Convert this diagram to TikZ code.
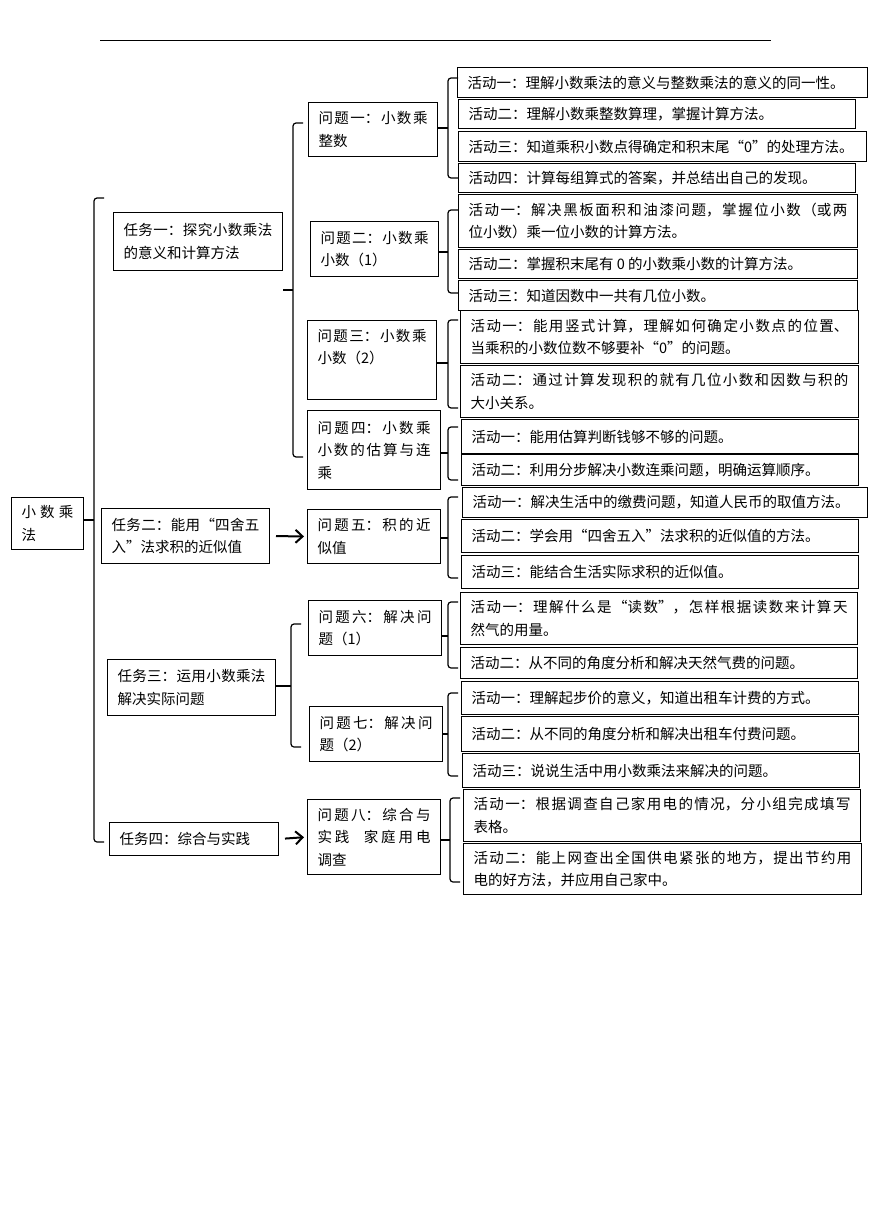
\documentclass[tikz,border=0pt]{standalone}
\usepackage{fontspec}
\usetikzlibrary{calc, arrows.meta}
\newfontfamily\cjk{Noto Sans CJK SC}
\XeTeXlinebreaklocale "zh"
\XeTeXlinebreakskip=0pt plus 3pt
\tikzset{box/.style = {draw, line width=1pt, anchor=north west, inner xsep=10pt,
    inner ysep=3pt, align=justify, font=\cjk\fontsize{14.5pt}{22.5pt}\selectfont}}
\tikzset{brace/.style = {line width=1.2pt, rounded corners=3pt}}
\tikzset{step arrow/.style = {line width=2pt, -{Straight Barb[length=7pt,width=13pt]},
    shorten <=6pt, shorten >=3pt}}

\begin{document}
\begin{tikzpicture}[x=1pt,y=-1pt]
  \useasboundingbox (0,0) rectangle (870,1230);
  \draw[line width=1pt] (100,41) -- (771,41);

  % root and tasks
  \node[box, text width=52pt, minimum height=52pt] (root) at (11,497)
    {小数乘\linebreak 法};
  \node[box, text width=149pt, minimum height=58pt] (task1) at (113,212)
    {任务一：探究小数乘法\linebreak 的意义和计算方法};
  \node[box, text width=148pt, minimum height=55pt] (task2) at (101,508)
    {任务二：能用“四舍五\linebreak 入”法求积的近似值};
  \node[box, text width=148pt, minimum height=56pt] (task3) at (107,659)
    {任务三：运用小数乘法\linebreak 解决实际问题};
  \node[box, text width=149pt, minimum height=33pt] (task4) at (109,822)
    {任务四：综合与实践};

  % problems
  \node[box, text width=109pt, minimum height=54pt] (prob1) at (308,102)
    {问题一：小数乘\linebreak 整数};
  \node[box, text width=108pt, minimum height=55pt] (prob2) at (310,221)
    {问题二：小数乘\linebreak 小数（1）};
  \node[box, text width=109pt, minimum height=79pt, text depth=50pt] (prob3) at (307,320)
    {问题三：小数乘\linebreak 小数（2）};
  \node[box, text width=113pt, minimum height=79pt] (prob4) at (307,410)
    {问题四：小数乘\linebreak 小数的估算与连\linebreak 乘};
  \node[box, text width=113pt, minimum height=54pt] (prob5) at (307,509)
    {问题五：积的近\linebreak 似值};
  \node[box, text width=113pt, minimum height=55pt] (prob6) at (308,600)
    {问题六：解决问\linebreak 题（1）};
  \node[box, text width=113pt, minimum height=55pt] (prob7) at (309,706)
    {问题七：解决问\linebreak 题（2）};
  \node[box, text width=113pt, minimum height=75pt] (prob8) at (307,799)
    {问题八：综合与\linebreak 实践\quad 家庭用电\linebreak 调查};

  % activities
  \node[box, text width=390pt, minimum height=30pt] (act11) at (457,67)
    {活动一：理解小数乘法的意义与整数乘法的意义的同一性。};
  \node[box, text width=377pt, minimum height=29pt] (act12) at (458,99)
    {活动二：理解小数乘整数算理，掌握计算方法。};
  \node[box, text width=388pt, minimum height=30pt] (act13) at (458,131)
    {活动三：知道乘积小数点得确定和积末尾“0”的处理方法。};
  \node[box, text width=377pt, minimum height=29pt] (act14) at (458,163)
    {活动四：计算每组算式的答案，并总结出自己的发现。};
  \node[box, text width=379pt, minimum height=53pt] (act21) at (458,194)
    {活动一：解决黑板面积和油漆问题，掌握位小数（或两\linebreak 位小数）乘一位小数的计算方法。};
  \node[box, text width=379pt, minimum height=29pt] (act22) at (458,249)
    {活动二：掌握积末尾有 0 的小数乘小数的计算方法。};
  \node[box, text width=379pt, minimum height=30pt] (act23) at (458,280)
    {活动三：知道因数中一共有几位小数。};
  \node[box, text width=378pt, minimum height=53pt] (act31) at (460,310)
    {活动一：能用竖式计算，理解如何确定小数点的位置、\linebreak 当乘积的小数位数不够要补“0”的问题。};
  \node[box, text width=378pt, minimum height=52pt] (act32) at (460,365)
    {活动二：通过计算发现积的就有几位小数和因数与积的\linebreak 大小关系。};
  \node[box, text width=377pt, minimum height=34pt] (act41) at (461,419)
    {活动一：能用估算判断钱够不够的问题。};
  \node[box, text width=377pt, minimum height=31pt] (act42) at (461,454)
    {活动二：利用分步解决小数连乘问题，明确运算顺序。};
  \node[box, text width=385pt, minimum height=30pt] (act51) at (462,487)
    {活动一：解决生活中的缴费问题，知道人民币的取值方法。};
  \node[box, text width=377pt, minimum height=33pt] (act52) at (461,519)
    {活动二：学会用“四舍五入”法求积的近似值的方法。};
  \node[box, text width=377pt, minimum height=33pt] (act53) at (461,555)
    {活动三：能结合生活实际求积的近似值。};
  \node[box, text width=377pt, minimum height=52pt] (act61) at (460,592)
    {活动一：理解什么是“读数”，怎样根据读数来计算天\linebreak 然气的用量。};
  \node[box, text width=377pt, minimum height=31pt] (act62) at (460,647)
    {活动二：从不同的角度分析和解决天然气费的问题。};
  \node[box, text width=377pt, minimum height=33pt] (act71) at (461,681)
    {活动一：理解起步价的意义，知道出租车计费的方式。};
  \node[box, text width=377pt, minimum height=35pt] (act72) at (461,716)
    {活动二：从不同的角度分析和解决出租车付费问题。};
  \node[box, text width=377pt, minimum height=34pt] (act73) at (462,753)
    {活动三：说说生活中用小数乘法来解决的问题。};
  \node[box, text width=377pt, minimum height=52pt] (act81) at (463,789)
    {活动一：根据调查自己家用电的情况，分小组完成填写\linebreak 表格。};
  \node[box, text width=378pt, minimum height=51pt] (act82) at (463,843)
    {活动二：能上网查出全国供电紧张的地方，提出节约用\linebreak 电的好方法，并应用自己家中。};

  % braces: parent / brace x / stub y / top / bottom
  \foreach \nd/\bx/\my/\ty/\by in {root/94/520/198/842, task1/293/290/123/457,
      task3/291/686/624/747, prob1/448/128/78/178, prob2/448/252/210/293,
      prob3/448/363/320/408, prob4/448/453/427/480, prob5/448/538/497/578,
      prob6/448/636/602/668, prob7/448/734/693/776, prob8/450/840/798/882} {
    \draw[brace] let \p1 = (\nd.east) in (\x1,-\my pt) -- (\bx pt,-\my pt);
    \draw[brace] (\bx+10,\ty) -- (\bx,\ty) -- (\bx,\by) -- (\bx+10,\by);
  }

  \draw[step arrow] (task2.east) -- (prob5.west);
  \draw[step arrow] (task4.east) -- (prob8.west);
\end{tikzpicture}
\end{document}
